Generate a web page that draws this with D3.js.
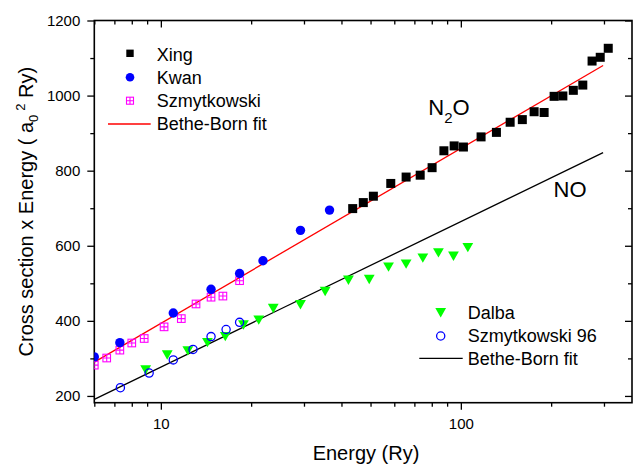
<!DOCTYPE html>
<html><head><meta charset="utf-8">
<script src="https://cdn.jsdelivr.net/npm/d3@7"></script>
<style>
body{margin:0;background:#fff}
svg{display:block;font-family:Arial,"Liberation Sans",sans-serif}
</style>
</head><body>
<svg id="c" width="633" height="464"></svg>
<script>
// ---- data (Energy in Ry, Cross section x Energy in a0^2 Ry) ----
const xingE = [43.6, 47.3, 51.1, 58.4, 65.7, 73.2, 80.2, 87.8, 95, 102, 116.8, 131.4, 146, 160.3, 175.5, 189.5, 204.6, 218.8, 237.1, 255, 273.8, 291.5, 310];
const xingV = [699, 715, 732, 766, 783, 788, 808, 853, 866, 863, 890, 902, 929, 936, 957, 955, 998, 999, 1014, 1028, 1092, 1102, 1126];
const kwanE = [6.0, 7.3, 11.0, 14.7, 18.3, 21.9, 29.2, 36.5];
const kwanV = [304, 342, 421, 484, 526, 560, 641, 695];
const szE = [6.0, 6.6, 7.3, 8.0, 8.8, 10.25, 11.7, 13.1, 14.7, 16.1, 18.3];
const szV = [282, 301, 322, 341, 353, 384, 406, 445, 463, 466, 507];
const dalbaE = [8.9, 10.5, 12.3, 14.3, 16.4, 18.85, 21.2, 23.7, 29.2, 35.3, 42.2, 49.5, 57.4, 65.7, 74.7, 84.2, 94.5, 105.5];
const dalbaV = [269, 309, 320, 342, 358, 389, 402, 433, 443, 478, 508, 510, 543, 551, 567, 581, 572, 595];
const sz96E = [7.33, 9.14, 11.0, 12.8, 14.7, 16.5, 18.3];
const sz96V = [222, 261, 296, 324, 358, 377, 396];
const fitN2OE = [6, 298], fitN2OV = [290, 1080];
const fitNOE = [6, 298], fitNOV = [191, 848];
const xMajor = [10, 100];
const xMinor = [6, 7, 8, 9, 20, 30, 40, 50, 60, 70, 80, 90, 200, 300];
const yMajor = [200, 400, 600, 800, 1000, 1200];
const yMinor = [300, 500, 700, 900, 1100];

const L = 94.3, R = 632, T = 20.5, B = 402.7;
const svg = d3.select('#c');
const x = d3.scaleLog().domain([6, 372]).range([L, R]);
const y = d3.scaleLinear().domain([182, 1200]).range([B, T]);

const fmt = d3.format('d');
function styleAxis(g){ g.select('.domain').remove(); g.selectAll('line').attr('stroke','#000').attr('stroke-width',1.3); g.selectAll('text').attr('font-size',15).attr('fill','#000').attr('font-family','Arial,"Liberation Sans",sans-serif'); }

// bottom
svg.append('g').attr('transform',`translate(0,${B})`).call(d3.axisBottom(x).tickValues(xMajor).tickFormat(fmt).tickSize(7).tickSizeOuter(0).tickPadding(8.6)).call(styleAxis);
svg.append('g').attr('transform',`translate(0,${B})`).call(d3.axisBottom(x).tickValues(xMinor).tickFormat('').tickSize(4).tickSizeOuter(0)).call(styleAxis);
// top (inward)
svg.append('g').attr('transform',`translate(0,${T})`).call(d3.axisBottom(x).tickValues(xMajor).tickFormat('').tickSize(7).tickSizeOuter(0)).call(styleAxis);
svg.append('g').attr('transform',`translate(0,${T})`).call(d3.axisBottom(x).tickValues(xMinor).tickFormat('').tickSize(4).tickSizeOuter(0)).call(styleAxis);
// left
svg.append('g').attr('transform',`translate(${L},0)`).call(d3.axisLeft(y).tickValues(yMajor).tickFormat(fmt).tickSize(7).tickSizeOuter(0).tickPadding(7)).call(styleAxis);
svg.append('g').attr('transform',`translate(${L},0)`).call(d3.axisLeft(y).tickValues(yMinor).tickFormat('').tickSize(4).tickSizeOuter(0)).call(styleAxis);
// right (inward)
svg.append('g').attr('transform',`translate(${R},0)`).call(d3.axisLeft(y).tickValues(yMajor).tickFormat('').tickSize(7).tickSizeOuter(0)).call(styleAxis);
svg.append('g').attr('transform',`translate(${R},0)`).call(d3.axisLeft(y).tickValues(yMinor).tickFormat('').tickSize(4).tickSizeOuter(0)).call(styleAxis);

// frame
svg.append('rect').attr('x',L).attr('y',T).attr('width',R-L).attr('height',B-T).attr('fill','none').attr('stroke','#000').attr('stroke-width',1.6);

// clip
svg.append('clipPath').attr('id','pc').append('rect').attr('x',L).attr('y',T).attr('width',R-L).attr('height',B-T);
const plot = svg.append('g').attr('clip-path','url(#pc)');

const line = d3.line().x(d=>x(d[0])).y(d=>y(d[1]));
plot.append('path').attr('d', line(fitN2OE.map((e,i)=>[e,fitN2OV[i]]))).attr('stroke','#ff0000').attr('stroke-width',1.3).attr('fill','none');
plot.append('path').attr('d', line(fitNOE.map((e,i)=>[e,fitNOV[i]]))).attr('stroke','#000').attr('stroke-width',1.3).attr('fill','none');

// marker drawers
function square(g, cx, cy, s){ g.append('rect').attr('x',cx-s/2).attr('y',cy-s/2).attr('width',s).attr('height',s).attr('fill','#000'); }
function dot(g, cx, cy, r){ g.append('circle').attr('cx',cx).attr('cy',cy).attr('r',r).attr('fill','#0000ff'); }
function ring(g, cx, cy, r){ g.append('circle').attr('cx',cx).attr('cy',cy).attr('r',r).attr('fill','none').attr('stroke','#0000ff').attr('stroke-width',1.3); }
function boxplus(g, cx, cy, s){
  const h=s/2;
  g.append('rect').attr('x',cx-h).attr('y',cy-h).attr('width',s).attr('height',s).attr('fill','none').attr('stroke','#ff00ff').attr('stroke-width',1.1);
  g.append('path').attr('d',`M${cx-h},${cy}H${cx+h}M${cx},${cy-h}V${cy+h}`).attr('stroke','#ff00ff').attr('stroke-width',1.1);
}
function tri(g, cx, cy, w, h){
  g.append('path').attr('d',`M${cx-w/2},${cy-h/2}L${cx+w/2},${cy-h/2}L${cx},${cy+h/2}Z`).attr('fill','#00ff00');
}

dalbaE.forEach((e,i)=>tri(plot, x(e), y(dalbaV[i]), 10.8, 9.4));
sz96E.forEach((e,i)=>ring(plot, x(e), y(sz96V[i]), 4.1));
szE.forEach((e,i)=>boxplus(plot, x(e), y(szV[i]), 7.6));
kwanE.forEach((e,i)=>dot(plot, x(e), y(kwanV[i]), 4.7));
xingE.forEach((e,i)=>square(plot, x(e), y(xingV[i]), 9));

// legend 1
const lg = svg.append('g');
square(lg, 130, 53.3, 7.4);
dot(lg, 130, 77.3, 4.3);
boxplus(lg, 130, 100.7, 7);
lg.append('line').attr('x1',108).attr('x2',150.7).attr('y1',124).attr('y2',124).attr('stroke','#ff0000').attr('stroke-width',1.3);
[['Xing',60.7],['Kwan',83.6],['Szmytkowski',107.1],['Bethe-Born fit',130.3]].forEach(([t,yy])=>{
  lg.append('text').attr('x',156.7).attr('y',yy).attr('font-size',18).text(t);
});
// legend 2
const lg2 = svg.append('g');
tri(lg2, 440.7, 312.7, 10.8, 9.4);
ring(lg2, 440.7, 336, 4.1);
lg2.append('line').attr('x1',419.3).attr('x2',462.7).attr('y1',358.3).attr('y2',358.3).attr('stroke','#000').attr('stroke-width',1.3);
[['Dalba',318.6],['Szmytkowski 96',342.2],['Bethe-Born fit',365]].forEach(([t,yy])=>{
  lg2.append('text').attr('x',467.7).attr('y',yy).attr('font-size',18).text(t);
});

// annotations
const n2o = svg.append('text').attr('x',428.3).attr('y',115).attr('font-size',22);
n2o.append('tspan').text('N');
n2o.append('tspan').attr('font-size',15).attr('dy',8).text('2');
n2o.append('tspan').attr('dy',-8).text('O');
svg.append('text').attr('x',553.5).attr('y',196.7).attr('font-size',22).text('NO');

// axis titles
svg.append('text').attr('x',366).attr('y',460).attr('text-anchor','middle').attr('font-size',20).text('Energy (Ry)');
const yl = svg.append('text').attr('transform',`translate(33,${(T+B)/2}) rotate(-90)`).attr('text-anchor','middle').attr('font-size',20);
yl.append('tspan').text('Cross section x Energy ( a');
yl.append('tspan').attr('font-size',13).attr('dy',5).text('0');
yl.append('tspan').attr('font-size',13).attr('dy',-13).attr('dx',4).text('2');
yl.append('tspan').attr('dy',8).text(' Ry)');
</script>
</body></html>
